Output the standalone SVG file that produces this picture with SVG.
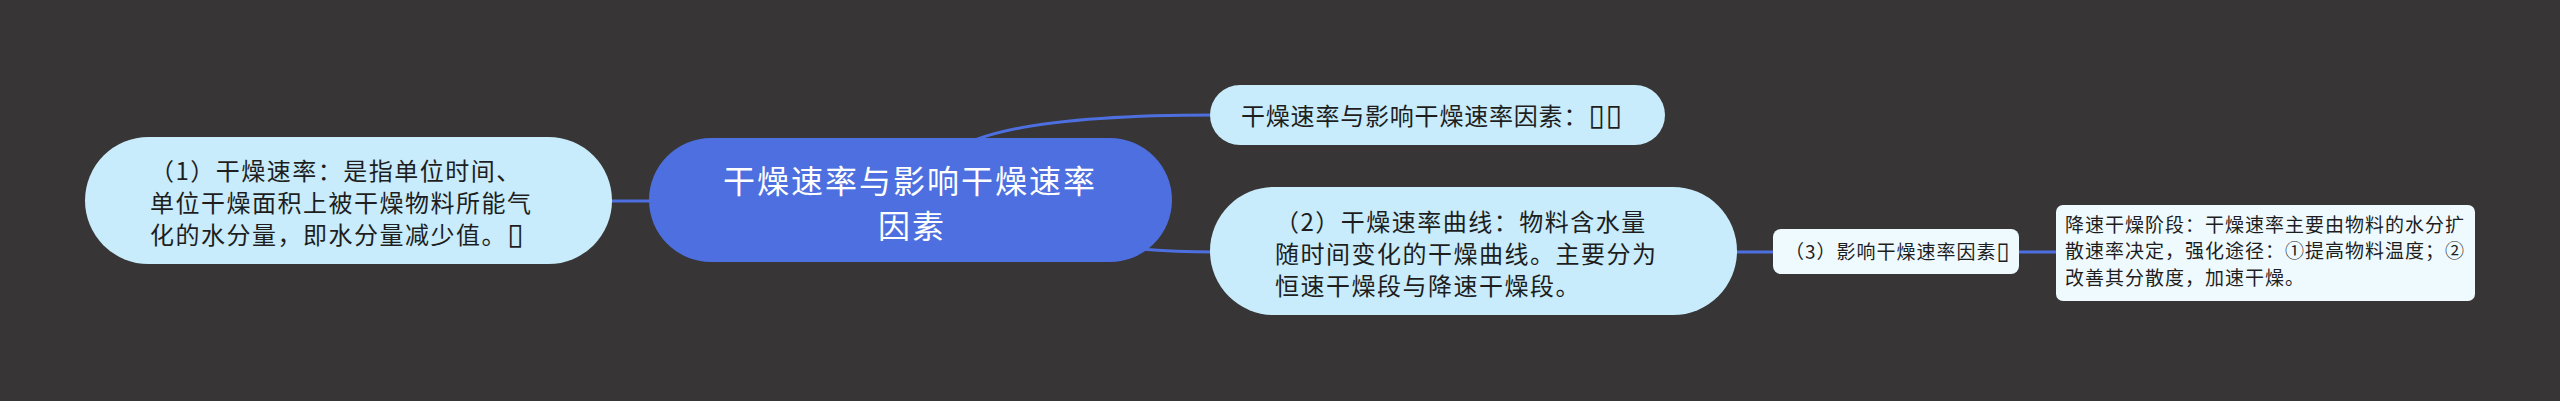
<svg xmlns="http://www.w3.org/2000/svg" width="2560" height="401" viewBox="0 0 2560 401">
<style>
.bg{fill:#373535}
.conn{fill:none;stroke:#4d6fe0;stroke-width:3}
.light{fill:#c8ecfc}
.pale{fill:#effaff}
.root{fill:#4d6fe0}
text{font-family:"Noto Sans CJK SC","Noto Sans",sans-serif;fill:#1e1e1e}
.t24{font-size:24px;letter-spacing:1.5px}
.t20{font-size:19px;letter-spacing:1px}
.tr{font-size:32px;letter-spacing:2px;fill:#ffffff}
.box{font-family:"DejaVu Sans",sans-serif;font-size:30px}
.boxs{font-family:"DejaVu Sans",sans-serif;font-size:24px}
</style>
<rect class="bg" x="0" y="0" width="2560" height="401"/>
<g id="connectors">
<path class="conn" d="M 600 201 L 660 201"/>
<path class="conn" d="M 975 140 Q 1040 115 1215 115"/>
<path class="conn" d="M 1140 249 Q 1175 252 1215 252"/>
<path class="conn" d="M 1730 252 L 1780 252"/>
<path class="conn" d="M 2012 252 L 2062 252"/>
</g>
<g id="node-left">
<rect class="light" x="85" y="137" width="527" height="127" rx="63.5"/>
<text class="t24" x="150" y="180">（1）干燥速率：是指单位时间、</text>
<text class="t24" x="150" y="212">单位干燥面积上被干燥物料所能气</text>
<text class="t24" x="150" y="244">化的水分量，即水分量减少值。<tspan class="box">▯</tspan></text>
</g>
<g id="node-root">
<rect class="root" x="649" y="138" width="523" height="124" rx="62"/>
<text class="tr" x="723" y="193">干燥速率与影响干燥速率</text>
<text class="tr" x="878" y="238">因素</text>
</g>
<g id="node-top">
<rect class="light" x="1210" y="85" width="455" height="60" rx="30"/>
<text class="t24" x="1241" y="125" style="letter-spacing:0.8px">干燥速率与影响干燥速率因素：<tspan class="box">▯▯</tspan></text>
</g>
<g id="node-curve">
<rect class="light" x="1210" y="187" width="527" height="128" rx="64"/>
<text class="t24" x="1275" y="231">（2）干燥速率曲线：物料含水量</text>
<text class="t24" x="1275" y="263">随时间变化的干燥曲线。主要分为</text>
<text class="t24" x="1275" y="295">恒速干燥段与降速干燥段。</text>
</g>
<g id="node-factors">
<rect class="pale" x="1773" y="229" width="246" height="45" rx="8"/>
<text class="t20" x="1785" y="259">（3）影响干燥速率因素<tspan class="boxs">▯</tspan></text>
</g>
<g id="node-falling">
<rect class="pale" x="2056" y="205" width="419" height="96" rx="7"/>
<text class="t20" x="2065" y="232">降速干燥阶段：干燥速率主要由物料的水分扩</text>
<text class="t20" x="2065" y="258">散速率决定，强化途径：①提高物料温度；②</text>
<text class="t20" x="2065" y="285">改善其分散度，加速干燥。</text>
</g>
</svg>
